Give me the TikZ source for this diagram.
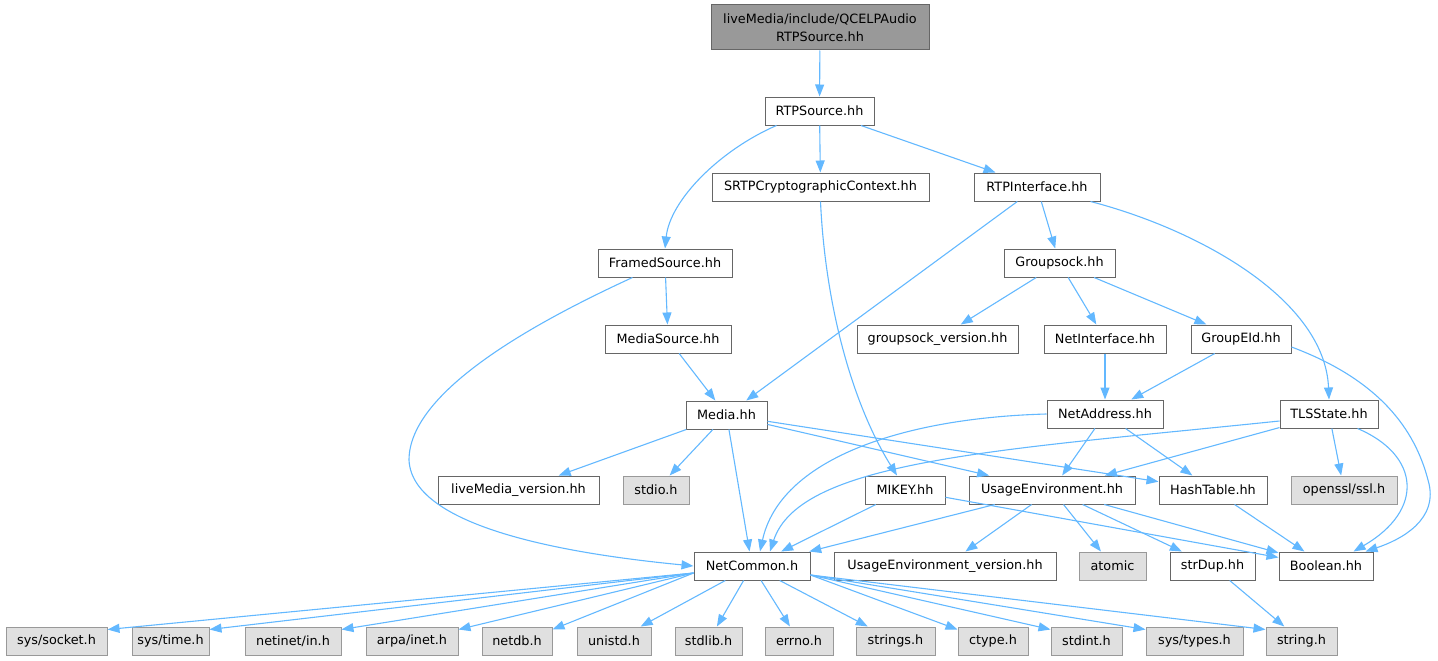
\documentclass[tikz,border=0pt]{standalone}
\usepackage{fontspec}
\setmainfont{DejaVu Sans}
\usetikzlibrary{arrows.meta,calc}
\definecolor{edgec}{HTML}{63B8FF}
\definecolor{boxborder}{HTML}{666666}
\definecolor{grayborder}{HTML}{999999}
\definecolor{grayfill}{HTML}{E0E0E0}
\definecolor{topfill}{HTML}{999999}
\begin{document}
\begin{tikzpicture}[x=1pt,y=-1pt,
  box/.style={draw=boxborder, fill=white, line width=1pt, minimum height=28pt,
    inner sep=0pt, text=black, font=\fontsize{12.8}{18}\selectfont},
  sysbox/.style={box, draw=grayborder, fill=grayfill},
  topbox/.style={box, fill=topfill, minimum height=45pt, align=center},
  e/.style={draw=edgec, line width=1.1pt, -{Triangle[length=12pt,width=9pt]}}]
\useasboundingbox (0,0) rectangle (1438,661);

% nodes
\node[topbox, minimum width=218] (top) at (820,27.5) {liveMedia/include/QCELPAudio\\RTPSource.hh};
\node[box, minimum width=109] (rtps) at (819.5,111) {RTPSource.hh};
\node[box, minimum width=217] (srtp) at (820.5,187) {SRTPCryptographicContext.hh};
\node[box, minimum width=126] (rtpi) at (1037,187) {RTPInterface.hh};
\node[box, minimum width=134] (framed) at (665,263) {FramedSource.hh};
\node[box, minimum width=111] (groupsock) at (1059.5,263) {Groupsock.hh};
\node[box, minimum width=126] (mediasrc) at (668,339) {MediaSource.hh};
\node[box, minimum width=161] (gsv) at (937.5,339) {groupsock\_version.hh};
\node[box, minimum width=122] (netif) at (1105,339) {NetInterface.hh};
\node[box, minimum width=100] (geid) at (1241,339) {GroupEId.hh};
\node[box, minimum width=81] (media) at (726.5,415) {Media.hh};
\node[box, minimum width=116] (netaddr) at (1105,414) {NetAddress.hh};
\node[box, minimum width=98] (tls) at (1329,414) {TLSState.hh};
\node[box, minimum width=161] (lmv) at (518.5,490) {liveMedia\_version.hh};
\node[sysbox, minimum width=66] (stdio) at (656,490) {stdio.h};
\node[box, minimum width=80] (mikey) at (905,490) {MIKEY.hh};
\node[box, minimum width=166] (usage) at (1052,490) {UsageEnvironment.hh};
\node[box, minimum width=108] (hash) at (1213,490) {HashTable.hh};
\node[sysbox, minimum width=106] (ssl) at (1344,490) {openssl/ssl.h};
\node[box, minimum width=116] (nc) at (752,566) {NetCommon.h};
\node[box, minimum width=222] (uev) at (945,566) {UsageEnvironment\_version.hh};
\node[sysbox, minimum width=67] (atomic) at (1112.5,566) {atomic};
\node[box, minimum width=85] (strdup) at (1212.5,566) {strDup.hh};
\node[box, minimum width=94] (boolean) at (1326,566) {Boolean.hh};

\node[sysbox, minimum width=101] (socket) at (56.5,641) {sys/socket.h};
\node[sysbox, minimum width=77] (systime) at (170.5,641) {sys/time.h};
\node[sysbox, minimum width=96] (netinet) at (293,641) {netinet/in.h};
\node[sysbox, minimum width=92] (arpa) at (412,641) {arpa/inet.h};
\node[sysbox, minimum width=70] (netdb) at (517,641) {netdb.h};
\node[sysbox, minimum width=74] (unistd) at (614,641) {unistd.h};
\node[sysbox, minimum width=67] (stdlib) at (708.5,641) {stdlib.h};
\node[sysbox, minimum width=68] (errno) at (799,641) {errno.h};
\node[sysbox, minimum width=79] (strings) at (895.5,641) {strings.h};
\node[sysbox, minimum width=70] (ctype) at (993,641) {ctype.h};
\node[sysbox, minimum width=71] (stdint) at (1086.5,641) {stdint.h};
\node[sysbox, minimum width=97] (systypes) at (1194.5,641) {sys/types.h};
\node[sysbox, minimum width=71] (string) at (1301.5,641) {string.h};

% edges
\draw[e] (top) -- (rtps);
\draw[e] ($(rtps.south west)+(12,0)$) .. controls (720,150) and (670,200) .. (framed.north);
\draw[e] (rtps) -- (srtp);
\draw[e] (rtps) -- (rtpi);
\draw[e] (srtp.south) .. controls (825,300) and (850,400) .. ($(mikey.north)+(-8,0)$);
\draw[e] (rtpi) -- (media);
\draw[e] (rtpi) -- (groupsock);
\draw[e] ($(rtpi.south east)+(-10,0)$) .. controls (1200,230) and (1325,300) .. (tls.north);
\draw[e] (framed) -- (mediasrc);
\draw[e] ($(framed.south west)+(35,0)$) .. controls (540,320) and (409,390) .. (409,460)
   .. controls (412,530) and (580,555) .. (nc.west);
\draw[e] (mediasrc) -- (media);
\draw[e] (groupsock) -- (gsv);
\draw[e] (groupsock) -- (netif);
\draw[e] (groupsock) -- (geid);
\draw[e] (geid) -- (netaddr);
\draw[e] ($(geid.east)+(0,8)$) .. controls (1380,380) and (1415,430) .. (1428,480)
   .. controls (1440,520) and (1400,540) .. ($(boolean.north east)+(-8,0)$);
\draw[e] (netif) -- (netaddr);
\draw[e] (netaddr.west) .. controls (900,418) and (780,460) .. ($(nc.north)+(8,0)$);
\draw[e] (netaddr) -- (usage);
\draw[e] (netaddr) -- (hash);
\draw[e] ($(tls.west)+(0,7)$) .. controls (1000,450) and (800,460) .. ($(nc.north)+(18,0)$);
\draw[e] (tls) -- (usage);
\draw[e] (tls) -- (ssl);
\draw[e] ($(tls.south east)+(-21,0)$) .. controls (1420,455) and (1425,510) .. ($(boolean.north east)+(-20,0)$);
\draw[e] (media) -- (lmv);
\draw[e] (media) -- (stdio);
\draw[e] (media) -- (nc);
\draw[e] (media) -- (usage);
\draw[e] (media) -- (hash);
\draw[e] (mikey) -- (nc);
\draw[e] (mikey) -- (boolean);
\draw[e] (usage) -- (nc);
\draw[e] (usage) -- (uev);
\draw[e] (usage) -- (atomic);
\draw[e] (usage) -- (strdup);
\draw[e] (usage) -- (boolean);
\draw[e] (hash) -- (boolean);
\draw[e] (strdup) -- (string);
\foreach \t in {socket,systime,netinet,arpa,netdb}
  \draw[e] ($(nc.west)+(0,7)$) -- ($(\t.north east)+(0,3)$);
\foreach \t in {unistd,stdlib,errno,strings}
  \draw[e] (nc) -- (\t);
\foreach \t in {ctype,stdint,systypes,string}
  \draw[e] ($(nc.east)+(0,9)$) -- ($(\t.north west)+(0,3)$);
\end{tikzpicture}
\end{document}
